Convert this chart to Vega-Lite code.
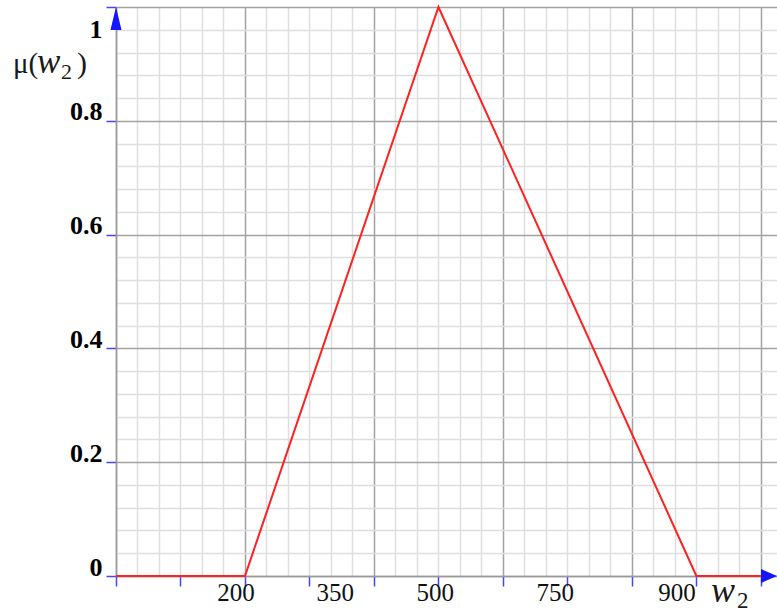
{
  "$schema": "https://vega.github.io/schema/vega-lite/v6.json",
  "width": 661,
  "height": 569,
  "autosize": "none",
  "padding": {"left": 116, "top": 7, "right": 0, "bottom": 36},
  "background": "white",
  "config": {"view": {"stroke": null}},
  "layer": [
    {
      "data": {"values": [
        {"w": 0, "mu": 0},
        {"w": 200, "mu": 0},
        {"w": 500, "mu": 1},
        {"w": 900, "mu": 0},
        {"w": 1000, "mu": 0}
      ]},
      "mark": {"type": "line", "color": "#ff2020", "strokeWidth": 2},
      "encoding": {
        "x": {
          "field": "w", "type": "quantitative",
          "scale": {"domain": [0, 1025], "nice": false, "zero": false},
          "axis": {
            "title": null,
            "tickCount": 200,
            "values": [0, 33.333, 66.667, 100, 133.333, 166.667, 200, 233.333, 266.667, 300, 333.333, 366.667, 400, 433.333, 466.667, 500, 533.333, 566.667, 600, 633.333, 666.667, 700, 733.333, 766.667, 800, 833.333, 866.667, 900, 933.333, 966.667, 1000],
            "grid": true,
            "gridColor": {"condition": {"test": "abs(datum.value/200 - round(datum.value/200)) < 0.001", "value": "#a2a2a2"}, "value": "#dedede"},
            "gridWidth": 1.5,
            "labels": false,
            "ticks": true,
            "tickColor": "#4444ff",
            "tickSize": 10,
            "tickWidth": 1.5,
            "tickOpacity": {"condition": {"test": "abs(datum.value/100 - round(datum.value/100)) < 0.001", "value": 1}, "value": 0},
            "domain": true,
            "domainColor": "#999999",
            "domainWidth": 1.5
          }
        },
        "y": {
          "field": "mu", "type": "quantitative",
          "scale": {"domain": [0, 1], "nice": false},
          "axis": {
            "title": null,
            "tickCount": 200,
            "values": [0, 0.04, 0.08, 0.12, 0.16, 0.2, 0.24, 0.28, 0.32, 0.36, 0.4, 0.44, 0.48, 0.52, 0.56, 0.6, 0.64, 0.68, 0.72, 0.76, 0.8, 0.84, 0.88, 0.92, 0.96, 1],
            "grid": true,
            "gridColor": {"condition": {"test": "abs(datum.value*5 - round(datum.value*5)) < 0.001", "value": "#a2a2a2"}, "value": "#dedede"},
            "gridWidth": 1.5,
            "ticks": true,
            "tickColor": "#4444ff",
            "tickSize": 10,
            "tickWidth": 1.5,
            "tickOpacity": {"condition": {"test": "abs(datum.value*5 - round(datum.value*5)) < 0.001", "value": 1}, "value": 0},
            "labelExpr": "abs(datum.value*5 - round(datum.value*5)) < 0.001 ? format(datum.value, '~g') : ''",
            "labelFont": "Liberation Serif",
            "labelFontWeight": "bold",
            "labelColor": "#000000",
            "labelFontSize": 26,
            "labelOffset": {"condition": {"test": "datum.value > 0.99", "value": 30}, "value": -1},
            "labelBaseline": "alphabetic",
            "labelPadding": 4,
            "labelOverlap": false,
            "labelBound": false,
            "labelFlush": false,
            "domain": true,
            "domainColor": "#999999",
            "domainWidth": 1.5,
            "encode": {"labels": {"update": {
              "fontSize": {"signal": "datum.value > 0.99 ? 19 : 26"},
              "dx": {"signal": "datum.value > 0.99 ? -7 : (datum.value < 0.01 ? -5 : 0)"}
            }}}
          }
        }
      }
    },
    {
      "data": {"values": [
        {"pos": 186, "label": "200"},
        {"pos": 340, "label": "350"},
        {"pos": 495, "label": "500"},
        {"pos": 681, "label": "750"},
        {"pos": 870, "label": "900"}
      ]},
      "mark": {"type": "text", "font": "Liberation Serif", "fontSize": 25, "color": "#111111", "align": "center", "baseline": "alphabetic", "dy": 25},
      "encoding": {
        "x": {"field": "pos", "type": "quantitative"},
        "y": {"datum": 0},
        "text": {"field": "label"}
      }
    },
    {
      "data": {"values": [{}]},
      "mark": {"type": "point", "shape": "M0,0L-0.48,2L0.48,2Z", "filled": true, "opacity": 1, "color": "#1515ff", "size": 529},
      "encoding": {"x": {"datum": 0}, "y": {"datum": 1}}
    },
    {
      "data": {"values": [{}]},
      "mark": {"type": "point", "shape": "M0,0L-2,-0.875L-2,0.875Z", "filled": true, "opacity": 1, "color": "#1515ff", "size": 256},
      "encoding": {"x": {"datum": 1025}, "y": {"datum": 0}}
    },
    {
      "data": {"values": [{}]},
      "mark": {"type": "text", "text": "w", "font": "Liberation Serif", "fontStyle": "italic", "fontSize": 36, "color": "#1a1a1a", "align": "left", "baseline": "alphabetic", "dx": -50, "dy": 26},
      "encoding": {"x": {"datum": 1000}, "y": {"datum": 0}}
    },
    {
      "data": {"values": [{}]},
      "mark": {"type": "text", "text": "2", "font": "Liberation Serif", "fontSize": 23, "color": "#1a1a1a", "align": "left", "baseline": "alphabetic", "dx": -24, "dy": 32},
      "encoding": {"x": {"datum": 1000}, "y": {"datum": 0}}
    },
    {
      "data": {"values": [{}]},
      "mark": {"type": "text", "text": "μ(", "font": "Liberation Serif", "fontSize": 29, "color": "#1a1a1a", "align": "left", "baseline": "alphabetic", "dx": -103, "dy": 66},
      "encoding": {"x": {"datum": 0}, "y": {"datum": 1}}
    },
    {
      "data": {"values": [{}]},
      "mark": {"type": "text", "text": "w", "font": "Liberation Serif", "fontStyle": "italic", "fontSize": 35, "color": "#1a1a1a", "align": "left", "baseline": "alphabetic", "dx": -79, "dy": 66},
      "encoding": {"x": {"datum": 0}, "y": {"datum": 1}}
    },
    {
      "data": {"values": [{}]},
      "mark": {"type": "text", "text": "2", "font": "Liberation Serif", "fontSize": 22, "color": "#1a1a1a", "align": "left", "baseline": "alphabetic", "dx": -55, "dy": 72},
      "encoding": {"x": {"datum": 0}, "y": {"datum": 1}}
    },
    {
      "data": {"values": [{}]},
      "mark": {"type": "text", "text": ")", "font": "Liberation Serif", "fontSize": 30, "color": "#1a1a1a", "align": "left", "baseline": "alphabetic", "dx": -39, "dy": 66},
      "encoding": {"x": {"datum": 0}, "y": {"datum": 1}}
    }
  ]
}
